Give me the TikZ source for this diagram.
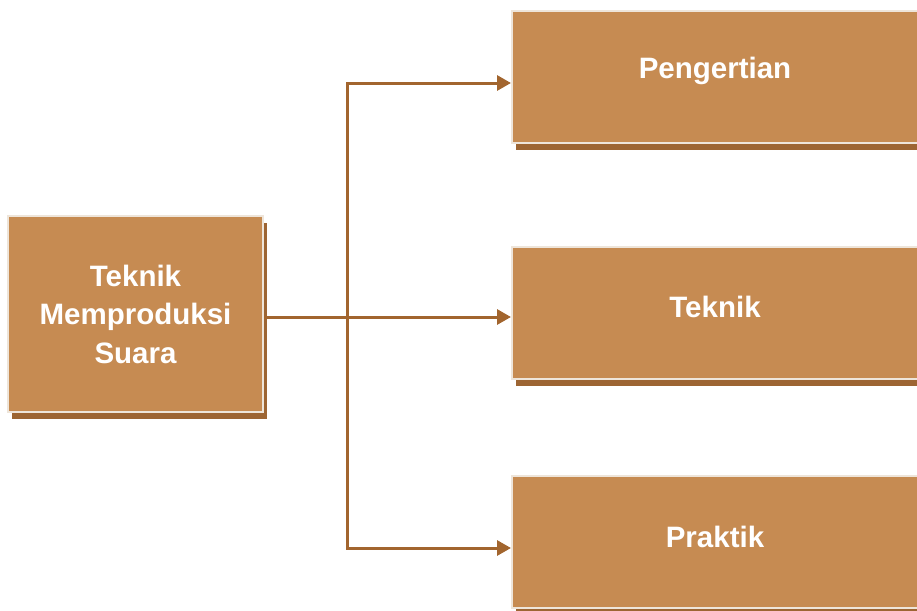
\documentclass[tikz,border=0pt]{standalone}
\usepackage{fontspec}
\setmainfont{Liberation Sans}
\usetikzlibrary{shadows,arrows.meta,calc}
\definecolor{boxfill}{HTML}{C68B52}
\definecolor{boxborder}{HTML}{EEE5DA}
\definecolor{shadowc}{HTML}{9D6533}
\definecolor{linec}{HTML}{A2652E}
\tikzset{
  box/.style={rectangle, fill=boxfill, draw=boxborder, line width=2pt,
    text=white, font=\bfseries\fontsize{29.5}{38.5}\selectfont, align=center,
    drop shadow={shadow xshift=4pt, shadow yshift=-7pt, fill=shadowc, opacity=1}},
  leftbox/.style={box, minimum width=255pt, minimum height=196pt, inner sep=0pt},
  rightbox/.style={box, minimum width=406pt, minimum height=132pt, inner sep=0pt},
  conn/.style={draw=linec, line width=3pt},
  arr/.style={conn, -{Triangle[length=14pt,width=15pt]}},
  boxlabel/.style={text=white, font=\bfseries\fontsize{29.5}{38.5}\selectfont}
}
\begin{document}
\begin{tikzpicture}[x=1pt,y=-1pt]
\useasboundingbox (0,0) rectangle (917,610);
\node[leftbox] (src) at (135.5,314) {Teknik\\Memproduksi\\Suara};
\node[rightbox] (peng) at (715,77) {};
\node[boxlabel] (pengt) at (715,71) {Pengertian};
\node[rightbox] (tek) at (715,313) {};
\node[boxlabel] (tekt) at (715,307) {Teknik};
\node[rightbox] (prak) at (715,542) {};
\node[boxlabel] (prakt) at (715,537) {Praktik};
\coordinate (j) at (347,317);
\draw[arr] (src.east |- j) -- ([yshift=-4pt]tek.west);
\draw[arr] (j) |- ([yshift=-6pt]peng.west);
\draw[arr] (j) |- ([yshift=-6pt]prak.west);
\end{tikzpicture}
\end{document}
